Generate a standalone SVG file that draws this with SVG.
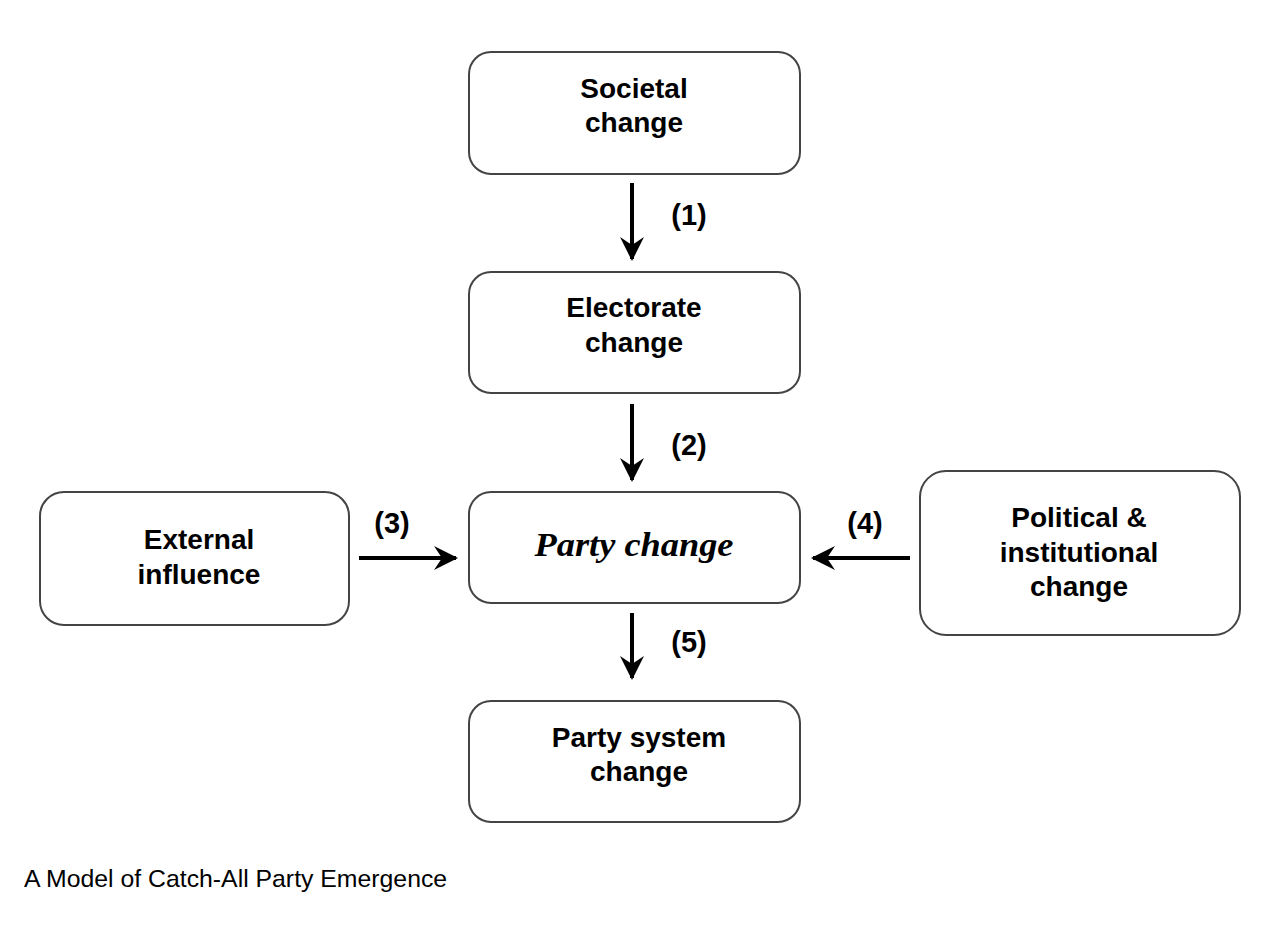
<svg xmlns="http://www.w3.org/2000/svg" width="1280" height="929" viewBox="0 0 1280 929">
<style>
.box{fill:#fff;stroke:#444;stroke-width:2}
.t{font-family:"Liberation Sans",Arial,sans-serif;font-weight:bold;font-size:28px;fill:#000;text-anchor:middle}
.it{font-family:"Liberation Serif","Times New Roman",serif;font-weight:bold;font-style:italic;font-size:34px;fill:#000;text-anchor:middle}
.lbl{font-family:"Liberation Sans",Arial,sans-serif;font-weight:bold;font-size:29px;fill:#000;text-anchor:middle}
.cap{font-family:"Liberation Sans",Arial,sans-serif;font-size:24.8px;fill:#000}
.ar{stroke:#000;stroke-width:4;fill:none}
</style>
<defs>
<marker id="ah" viewBox="0 0 12 12" refX="11" refY="6" markerWidth="6" markerHeight="6" markerUnits="strokeWidth" orient="auto">
<path d="M0,0 L12,6 L0,12 L4,6 Z" fill="#000"/>
</marker>
</defs>
<rect width="1280" height="929" fill="#fff"/>
<g id="n-societal"><rect class="box" x="469" y="52" width="331" height="122" rx="22"/>
<text class="t" x="634" y="98">Societal</text><text class="t" x="634" y="132">change</text></g>
<g id="n-electorate"><rect class="box" x="469" y="272" width="331" height="121" rx="22"/>
<text class="t" x="634" y="317">Electorate</text><text class="t" x="634" y="352">change</text></g>
<g id="n-party"><rect class="box" x="469" y="492" width="331" height="111" rx="22"/>
<text class="it" x="634" y="556" textLength="199" lengthAdjust="spacingAndGlyphs">Party change</text></g>
<g id="n-system"><rect class="box" x="469" y="701" width="331" height="121" rx="22"/>
<text class="t" x="639" y="747">Party system</text><text class="t" x="639" y="781">change</text></g>
<g id="n-external"><rect class="box" x="40" y="492" width="309" height="133" rx="24"/>
<text class="t" x="199" y="549">External</text><text class="t" x="199" y="584">influence</text></g>
<g id="n-political"><rect class="box" x="920" y="471" width="320" height="164" rx="26"/>
<text class="t" x="1079" y="527">Political &amp;</text><text class="t" x="1079" y="562">institutional</text><text class="t" x="1079" y="596">change</text></g>
<g id="connectors">
<line class="ar" x1="632" y1="183" x2="632" y2="259" marker-end="url(#ah)"/>
<line class="ar" x1="632" y1="404" x2="632" y2="480" marker-end="url(#ah)"/>
<line class="ar" x1="632" y1="613" x2="632" y2="678" marker-end="url(#ah)"/>
<line class="ar" x1="359" y1="558" x2="456" y2="558" marker-end="url(#ah)"/>
<line class="ar" x1="910" y1="558" x2="813" y2="558" marker-end="url(#ah)"/>
<text class="lbl" x="689" y="225">(1)</text>
<text class="lbl" x="689" y="455">(2)</text>
<text class="lbl" x="689" y="652">(5)</text>
<text class="lbl" x="392" y="533">(3)</text>
<text class="lbl" x="865" y="533">(4)</text>
</g>
<text class="cap" x="24" y="887">A Model of Catch-All Party Emergence</text>
</svg>
